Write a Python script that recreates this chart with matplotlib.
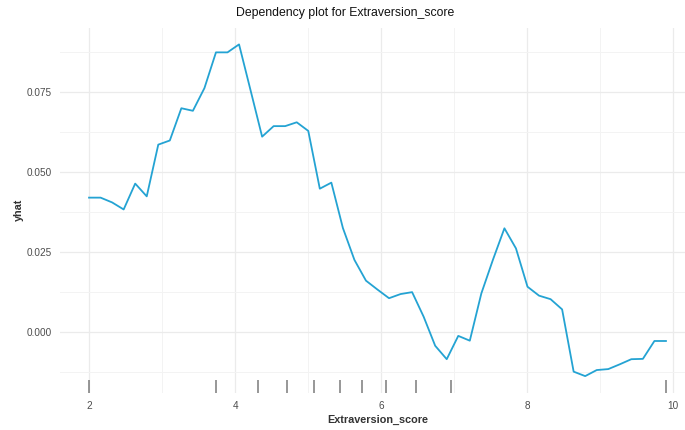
import matplotlib
matplotlib.use("Agg")
import matplotlib.pyplot as plt
import numpy as np

# ---- data ----
x_start = 2.0
x_step = 0.158
yhat = [0.0420, 0.0420, 0.0405, 0.0383, 0.0464, 0.0424, 0.0586, 0.0599, 0.0700, 0.0692,
        0.0763, 0.0875, 0.0875, 0.0900, 0.0756, 0.0611, 0.0644, 0.0644, 0.0656, 0.0629,
        0.0448, 0.0467, 0.0325, 0.0225, 0.0160, 0.0132, 0.0105, 0.0118, 0.0124, 0.0047,
        -0.0044, -0.0086, -0.0013, -0.0028, 0.0120, 0.0225, 0.0324, 0.0261, 0.0141, 0.0113,
        0.0102, 0.0070, -0.0125, -0.0139, -0.0120, -0.0117, -0.0102, -0.0086, -0.0085, -0.0029,
        -0.0029]
x_grid = [round(x_start + i * x_step, 4) for i in range(len(yhat))]
rug_x = [2.0, 3.74, 4.32, 4.71, 5.08, 5.43, 5.74, 6.07, 6.48, 6.96, 9.90]
x_ticks = [2, 4, 6, 8, 10]
y_ticks = [0.000, 0.025, 0.050, 0.075]
y_tick_labels = ["0.000", "0.025", "0.050", "0.075"]
title = "Dependency plot for Extraversion_score"
xlab = "Extraversion_score"
ylab = "yhat"

plt.rcParams['font.family'] = ['Liberation Sans', 'DejaVu Sans']

W, H = 685, 430
fig = plt.figure(figsize=(W / 100, H / 100), dpi=100)
left, right, top, bottom = 60.2, 694.8, 27.8, 392.7
ax = fig.add_axes([left / W, (H - bottom) / H, (right - left) / W, (bottom - top) / H])

xmin, xmax = min(x_grid), max(x_grid)
xr = xmax - xmin
ax.set_xlim(xmin - 0.05 * xr, xmax + 0.05 * xr)
ymin, ymax = min(yhat), max(yhat)
yr = ymax - ymin
ax.set_ylim(ymin - 0.05 * yr, ymax + 0.05 * yr)

ax.set_xticks(x_ticks)
ax.set_xticks([3, 5, 7, 9], minor=True)
ax.set_yticks(y_ticks)
ax.set_yticklabels(y_tick_labels)
ax.set_yticks([-0.0125, 0.0125, 0.0375, 0.0625, 0.0875], minor=True)

ax.grid(True, which='major', color='#ebebeb', linewidth=0.9)
ax.grid(True, which='minor', color='#f3f3f3', linewidth=0.7)
ax.set_axisbelow(True)
for s in ax.spines.values():
    s.set_visible(False)
ax.tick_params(which='both', length=0)
ax.tick_params(axis='both', labelsize=7.2, labelcolor='#4d4d4d')
ax.tick_params(axis='x', pad=6)
ax.tick_params(axis='y', pad=6)

ax.plot(x_grid, yhat, color='#24a3d3', linewidth=1.3, solid_joinstyle='round')

# rug
for rx in rug_x:
    ax.plot([rx, rx], [0, 0.035], transform=ax.get_xaxis_transform(),
            color='#7a7a7a', linewidth=1.1, solid_capstyle='butt')

ax.set_xlabel(xlab, fontsize=7.8, fontweight='bold', color='#333333', labelpad=3)
ax.set_ylabel(ylab, fontsize=7.8, fontweight='bold', color='#333333', labelpad=2)
fig.text(345 / W, 1 - 13 / H, title, ha='center', va='center', fontsize=8.8, color='#111111')

fig.savefig("out.png", dpi=100)
